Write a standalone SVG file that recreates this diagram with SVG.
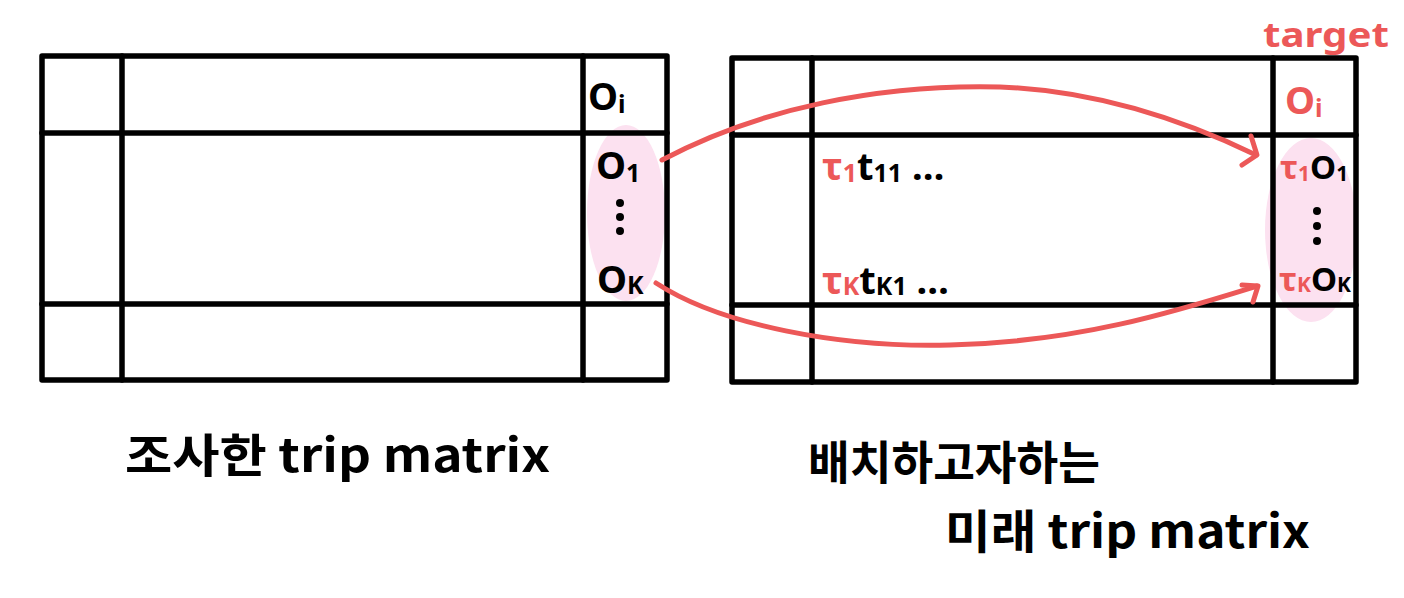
<svg xmlns="http://www.w3.org/2000/svg" width="1404" height="598" viewBox="0 0 1404 598">
<style>
.grid{fill:none;stroke:#000;stroke-width:5.5;stroke-linecap:round;stroke-linejoin:round}
.pink{fill:#fce1f0}
.arr{fill:none;stroke:#ec5858;stroke-width:5;stroke-linecap:round;stroke-linejoin:round}
.lb{font-family:"Noto Sans","Noto Sans CJK KR",sans-serif;font-weight:700;font-size:38px;fill:#000}
.sm{font-size:33px}
.red{fill:#ec5858}
.sub{font-size:25px}
.sm .sub{font-size:21px}
.cap{font-family:"Noto Sans CJK KR","Noto Sans",sans-serif;font-weight:700;font-size:46px;fill:#000}
.dot{fill:#000}
</style>
<rect width="1404" height="598" fill="#fff"/>
<g id="pinks">
<ellipse class="pink" cx="626" cy="213" rx="39" ry="88"/>
<ellipse class="pink" cx="1311" cy="230" rx="46" ry="92"/>
</g>
<g id="left-matrix">
<rect class="grid" x="42" y="56" width="625" height="324"/>
<line class="grid" x1="122" y1="56" x2="122" y2="380"/>
<line class="grid" x1="583" y1="56" x2="583" y2="380"/>
<line class="grid" x1="42" y1="133" x2="667" y2="133"/>
<line class="grid" x1="42" y1="304" x2="667" y2="304"/>
<text class="lb" x="588" y="110">O<tspan class="sub" dy="3">i</tspan></text>
<text class="lb" x="596" y="179">O<tspan class="sub" dy="3">1</tspan></text>
<circle class="dot" cx="620" cy="203" r="4"/>
<circle class="dot" cx="620" cy="217" r="4"/>
<circle class="dot" cx="620" cy="231" r="4"/>
<text class="lb" x="597" y="293">O<tspan class="sub" dy="1">K</tspan></text>
</g>
<g id="right-matrix">
<rect class="grid" x="732" y="58" width="624" height="324"/>
<line class="grid" x1="812" y1="58" x2="812" y2="382"/>
<line class="grid" x1="1273" y1="58" x2="1273" y2="382"/>
<line class="grid" x1="732" y1="135" x2="1356" y2="135"/>
<line class="grid" x1="732" y1="305" x2="1356" y2="305"/>
<text class="lb red" x="1263" y="47" style="font-size:34px" textLength="126" lengthAdjust="spacingAndGlyphs">target</text>
<text class="lb red" x="1285" y="114">O<tspan class="sub" dy="3">i</tspan></text>
<text class="lb sm" x="1280" y="179"><tspan class="red">τ</tspan><tspan class="red sub" dy="2">1</tspan><tspan dy="-2">O</tspan><tspan class="sub" dy="2">1</tspan></text>
<circle class="dot" cx="1317" cy="211" r="4"/>
<circle class="dot" cx="1317" cy="226" r="4"/>
<circle class="dot" cx="1317" cy="241" r="4"/>
<text class="lb sm" x="1279" y="291"><tspan class="red">τ</tspan><tspan class="red sub" dy="1">K</tspan><tspan dy="-1">O</tspan><tspan class="sub" dy="1">K</tspan></text>
<text class="lb" x="822" y="180"><tspan class="red">τ</tspan><tspan class="red sub" dy="2">1</tspan><tspan dy="-2">t</tspan><tspan class="sub" dy="2">11</tspan><tspan dy="-2"> …</tspan></text>
<text class="lb" x="822" y="294"><tspan class="red">τ</tspan><tspan class="red sub" dy="1">K</tspan><tspan dy="-1">t</tspan><tspan class="sub" dy="1">K1</tspan><tspan dy="-1"> …</tspan></text>
</g>
<g id="connectors">
<path class="arr" d="M 662,160 C 760,108 880,84 1000,87 C 1110,91 1200,128 1256,155"/>
<polyline class="arr" points="1251,136 1257,155 1242,165"/>
<path class="arr" d="M 656,283 C 720,325 840,348 950,345 C 1080,342 1180,310 1257,286"/>
<polyline class="arr" points="1242,285 1258,286 1253,302"/>
</g>
<g id="captions">
<text class="cap" x="125" y="472" textLength="425" lengthAdjust="spacingAndGlyphs">조사한 trip matrix</text>
<text class="cap" x="808" y="479" textLength="292" lengthAdjust="spacingAndGlyphs">배치하고자하는</text>
<text class="cap" x="945" y="548" textLength="365" lengthAdjust="spacingAndGlyphs">미래 trip matrix</text>
</g>
</svg>
